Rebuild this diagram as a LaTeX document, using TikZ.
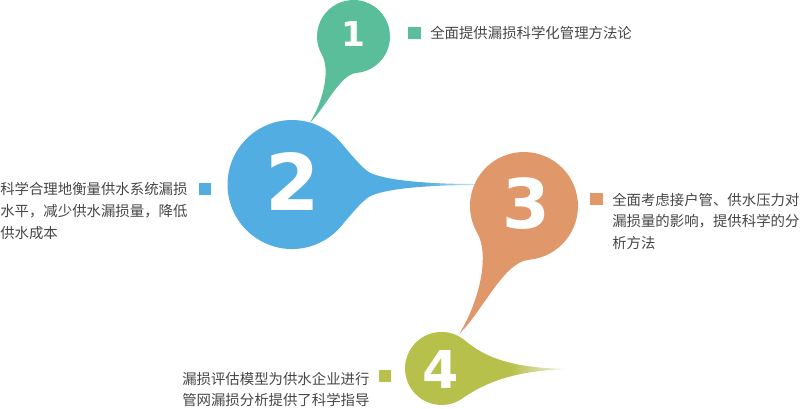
\documentclass[tikz,border=0pt]{standalone}
\usepackage{fontspec}
\newfontfamily\cjk{Noto Sans CJK SC}
\newfontfamily\numfont{DejaVu Sans}
\usetikzlibrary{fadings}
\definecolor{cgreen}{HTML}{5ABE9B}
\definecolor{cblue}{HTML}{52ADE2}
\definecolor{corange}{HTML}{E0976A}
\definecolor{colive}{HTML}{B7C04A}
\definecolor{ctext}{HTML}{464646}
\tikzset{
  pics/dropA/.style={code={
    \fill[pic actions] ({-64*#1},{127*#1}) .. controls ({-42*#1},{106*#1}) and ({-20.2*#1},{56*#1}) .. ({4.7*#1},{53.8*#1})
      arc[start angle=85, end angle=-210, radius={54*#1}]
      .. controls ({-34.3*#1},{48.7*#1}) and ({-44*#1},{94*#1}) .. ({-64.6*#1},{127.6*#1}) -- cycle;
  }},
  num/.style={text=white, inner sep=0pt, font=\numfont\bfseries\fontsize{#1}{#1}\selectfont},
  desc/.style={text=ctext, inner sep=0pt, anchor=west, text height=9.5pt, text depth=1.3pt,
    font=\cjk\fontsize{10.8}{13}\selectfont},
  bullet/.style={fill=#1, inner sep=0pt, minimum width=9.4pt, minimum height=9pt},
  tipfade/.style={fill=white, path fading=west, fill opacity=#1},
}
\begin{document}
\begin{tikzpicture}[x=0.75pt, y=-0.75pt]
\useasboundingbox (0,0) rectangle (800,408);
% ---- drop 1 ----
\pic[fill=cgreen] at (353.5,36.5) {dropA=0.676};
\node[num=25.7] (n1) at (353.3,34.2) {1};
% ---- drop 2 ----
\fill[cblue] (340.7,142.2) arc[start angle=-41, end angle=-319, radius=64.5]
  .. controls (347.3,218.7) and (362.8,199.9) .. (370,196.3)
  .. controls (383.4,189.6) and (420,185) .. (476,185)
  -- (476,184)
  .. controls (420,184) and (383.4,179.4) .. (370,172.7)
  .. controls (362.8,169.1) and (347.3,150.3) .. (340.7,142.2) -- cycle;
\fill[tipfade=0.7] (425,178) rectangle (477,191);
\node[num=58.6] (n2) at (293,181.5) {2};
% ---- drop 3 ----
\pic[fill=corange] at (524,206) {dropA=1};
\node[num=51.4] (n3) at (526,203.3) {3};
% ---- drop 4 ----
\fill[colive] (465,340.5) arc[start angle=-50, end angle=-305, radius=36.5]
  .. controls (482.9,384.1) and (512,370.5) .. (568,369.1)
  -- (568,368.9)
  .. controls (510,368.2) and (484.2,356.6) .. (465,340.5) -- cycle;
\fill[tipfade=0.9] (510,360) rectangle (570,378);
\node[num=39.1] (n4) at (441,369.2) {4};
% ---- texts ----
\node[bullet=cgreen] (b1) at (414.5,33.3) {};
\node[desc] (t1) at (430,33.5) {全面提供漏损科学化管理方法论};
\node[bullet=cblue] (b2) at (205,188.5) {};
\node[desc] (t2a) at (0,189.5) {科学合理地衡量供水系统漏损};
\node[desc] (t2b) at (0,211.3) {水平，减少供水漏损量，降低};
\node[desc] (t2c) at (0,233.1) {供水成本};
\node[bullet=corange] (b3) at (596.7,199.2) {};
\node[desc] (t3a) at (612,200) {全面考虑接户管、供水压力对};
\node[desc] (t3b) at (612,221.4) {漏损量的影响，提供科学的分};
\node[desc] (t3c) at (612,242.8) {析方法};
\node[bullet=colive] (b4) at (385,376.2) {};
\node[desc] (t4a) at (182,379.5) {漏损评估模型为供水企业进行};
\node[desc] (t4b) at (182,400) {管网漏损分析提供了科学指导};
\end{tikzpicture}
\end{document}
